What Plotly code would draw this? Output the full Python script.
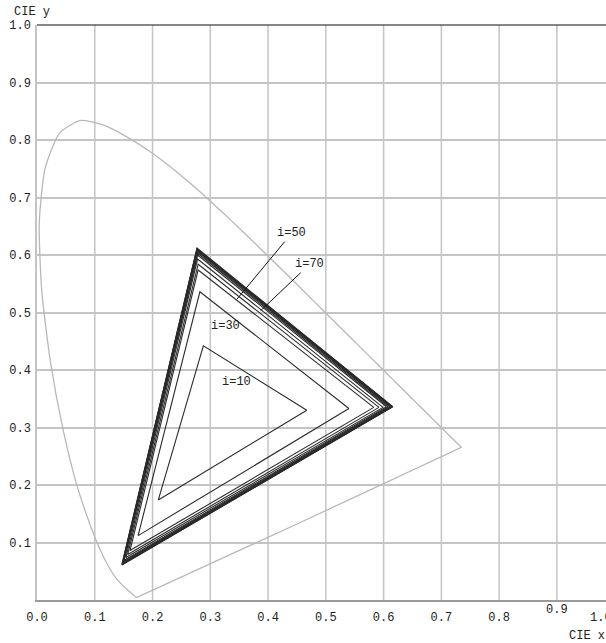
import plotly.graph_objects as go

# CIE 1931 spectral locus, 380..700 nm every 5 nm
locus_x = [0.1741, 0.1740, 0.1738, 0.1736, 0.1733, 0.1730, 0.1726, 0.1721, 0.1714, 0.1703,
           0.1689, 0.1669, 0.1644, 0.1611, 0.1566, 0.1510, 0.1440, 0.1355, 0.1241, 0.1096,
           0.0913, 0.0687, 0.0454, 0.0235, 0.0082, 0.0039, 0.0139, 0.0389, 0.0743, 0.1142,
           0.1547, 0.1929, 0.2296, 0.2658, 0.3016, 0.3373, 0.3731, 0.4087, 0.4441, 0.4788,
           0.5125, 0.5448, 0.5752, 0.6029, 0.6270, 0.6482, 0.6658, 0.6801, 0.6915, 0.7006,
           0.7079, 0.7140, 0.7190, 0.7230, 0.7260, 0.7283, 0.7300, 0.7311, 0.7320, 0.7327,
           0.7334, 0.7340, 0.7344, 0.7346, 0.7347]
locus_y = [0.0050, 0.0050, 0.0049, 0.0049, 0.0048, 0.0048, 0.0048, 0.0048, 0.0051, 0.0058,
           0.0069, 0.0086, 0.0109, 0.0138, 0.0177, 0.0227, 0.0297, 0.0399, 0.0578, 0.0868,
           0.1327, 0.2007, 0.2950, 0.4127, 0.5384, 0.6548, 0.7502, 0.8120, 0.8338, 0.8262,
           0.8059, 0.7816, 0.7543, 0.7243, 0.6923, 0.6589, 0.6245, 0.5896, 0.5547, 0.5202,
           0.4866, 0.4544, 0.4242, 0.3965, 0.3725, 0.3514, 0.3340, 0.3197, 0.3083, 0.2993,
           0.2920, 0.2859, 0.2809, 0.2770, 0.2740, 0.2717, 0.2700, 0.2689, 0.2680, 0.2673,
           0.2666, 0.2660, 0.2656, 0.2654, 0.2653]

# gamut triangles per iteration
iters = [10, 30, 50, 70, 90, 110, 130, 150, 170, 190, 210, 230, 250]
red_x = [0.467, 0.540, 0.583, 0.592, 0.599, 0.605, 0.608, 0.611, 0.612, 0.614, 0.615, 0.615, 0.616]
red_y = [0.330, 0.333, 0.335, 0.335, 0.335, 0.336, 0.336, 0.336, 0.336, 0.336, 0.336, 0.336, 0.336]
green_x = [0.288, 0.282, 0.279, 0.279, 0.278, 0.278, 0.278, 0.277, 0.277, 0.277, 0.277, 0.277, 0.277]
green_y = [0.442, 0.536, 0.574, 0.584, 0.593, 0.600, 0.603, 0.606, 0.608, 0.609, 0.610, 0.611, 0.612]
blue_x = [0.210, 0.175, 0.161, 0.157, 0.154, 0.151, 0.150, 0.149, 0.149, 0.148, 0.148, 0.147, 0.147]
blue_y = [0.174, 0.112, 0.086, 0.079, 0.074, 0.069, 0.067, 0.065, 0.064, 0.063, 0.062, 0.062, 0.061]

x_ticks = [0, 0.1, 0.2, 0.3, 0.4, 0.5, 0.6, 0.7, 0.8]
x_labels = ["0.0", "0.1", "0.2", "0.3", "0.4", "0.5", "0.6", "0.7", "0.8"]
y_ticks = [0.1, 0.2, 0.3, 0.4, 0.5, 0.6, 0.7, 0.8, 0.9, 1.0]
y_labels = ["0.1", "0.2", "0.3", "0.4", "0.5", "0.6", "0.7", "0.8", "0.9", "1.0"]
grid_vals = [0.1, 0.2, 0.3, 0.4, 0.5, 0.6, 0.7, 0.8, 0.9]

mono = "Liberation Mono, Courier New, monospace"
grid_col = "#c4c4c4"

fig = go.Figure()

fig.add_trace(go.Scatter(x=locus_x + [locus_x[0]], y=locus_y + [locus_y[0]], mode="lines",
                         line=dict(color="#b8b8b8", width=1.3, shape="spline", smoothing=0.6),
                         hoverinfo="skip"))

for k, it in enumerate(iters):
    xs = [red_x[k], green_x[k], blue_x[k], red_x[k]]
    ys = [red_y[k], green_y[k], blue_y[k], red_y[k]]
    fig.add_trace(go.Scatter(x=xs, y=ys, mode="lines", name="i=%d" % it,
                             line=dict(color="#2a2a2a", width=1.1)))

# labels
fig.add_annotation(x=0.327, y=0.477, text="i=30", showarrow=False)
fig.add_annotation(x=0.346, y=0.379, text="i=10", showarrow=False)
fig.add_annotation(x=0.346, y=0.523, ax=0.441, ay=0.638, axref="x", ayref="y",
                   text="i=50", showarrow=True, arrowhead=0, arrowwidth=1, arrowcolor="#111")
fig.add_annotation(x=0.387, y=0.503, ax=0.472, ay=0.584, axref="x", ayref="y",
                   text="i=70", showarrow=True, arrowhead=0, arrowwidth=1, arrowcolor="#111")

# odd tick labels at the right end of the x axis
fig.add_annotation(x=0.9, y=0, yref="paper", yanchor="top", yshift=-1, text="0.9",
                   showarrow=False)
fig.add_annotation(xref="paper", yref="paper", x=1, y=0, xanchor="left", yanchor="top",
                   xshift=-18, yshift=-9, text="1.0", showarrow=False)

fig.add_annotation(xref="paper", yref="paper", x=1.0, y=0, xanchor="left", yanchor="top",
                   xshift=-39, yshift=-27, text="CIE x", showarrow=False)
fig.add_annotation(xref="paper", yref="paper", x=0, y=1, xanchor="left", yanchor="bottom",
                   xshift=-25, yshift=4, text="CIE y", showarrow=False)

# black frame on top
fig.add_shape(type="line", xref="paper", yref="paper", x0=0, x1=1, y0=1, y1=1,
              line=dict(color="#111", width=1.2))

fig.update_layout(
    width=606, height=643,
    margin=dict(l=37, r=0, t=25, b=43),
    paper_bgcolor="white", plot_bgcolor="white",
    showlegend=False,
    font=dict(family=mono, size=12, color="#222"),
)
fig.update_xaxes(range=[0, 0.985], tickvals=x_ticks, ticktext=x_labels,
                 showgrid=False, zeroline=False, automargin=False,
                 showline=True, linecolor="#9a9a9a", linewidth=2, ticks="", ticklabelstandoff=5)
fig.update_yaxes(range=[0, 1.0], tickvals=y_ticks, ticktext=y_labels,
                 showgrid=True, gridcolor=grid_col, gridwidth=1.5, zeroline=False, automargin=False,
                 showline=True, linecolor=grid_col, linewidth=1.5, ticks="", ticklabelstandoff=2)

# vertical grid lines including 0.9 (its label is drawn separately)
for g in grid_vals:
    fig.add_vline(x=g, line=dict(color=grid_col, width=1.5), layer="below")

# drop the page's default body margin so the figure fills the window exactly
fig.write_html("out.html", config={"displayModeBar": False},
               post_script="document.body.style.margin='0';")
